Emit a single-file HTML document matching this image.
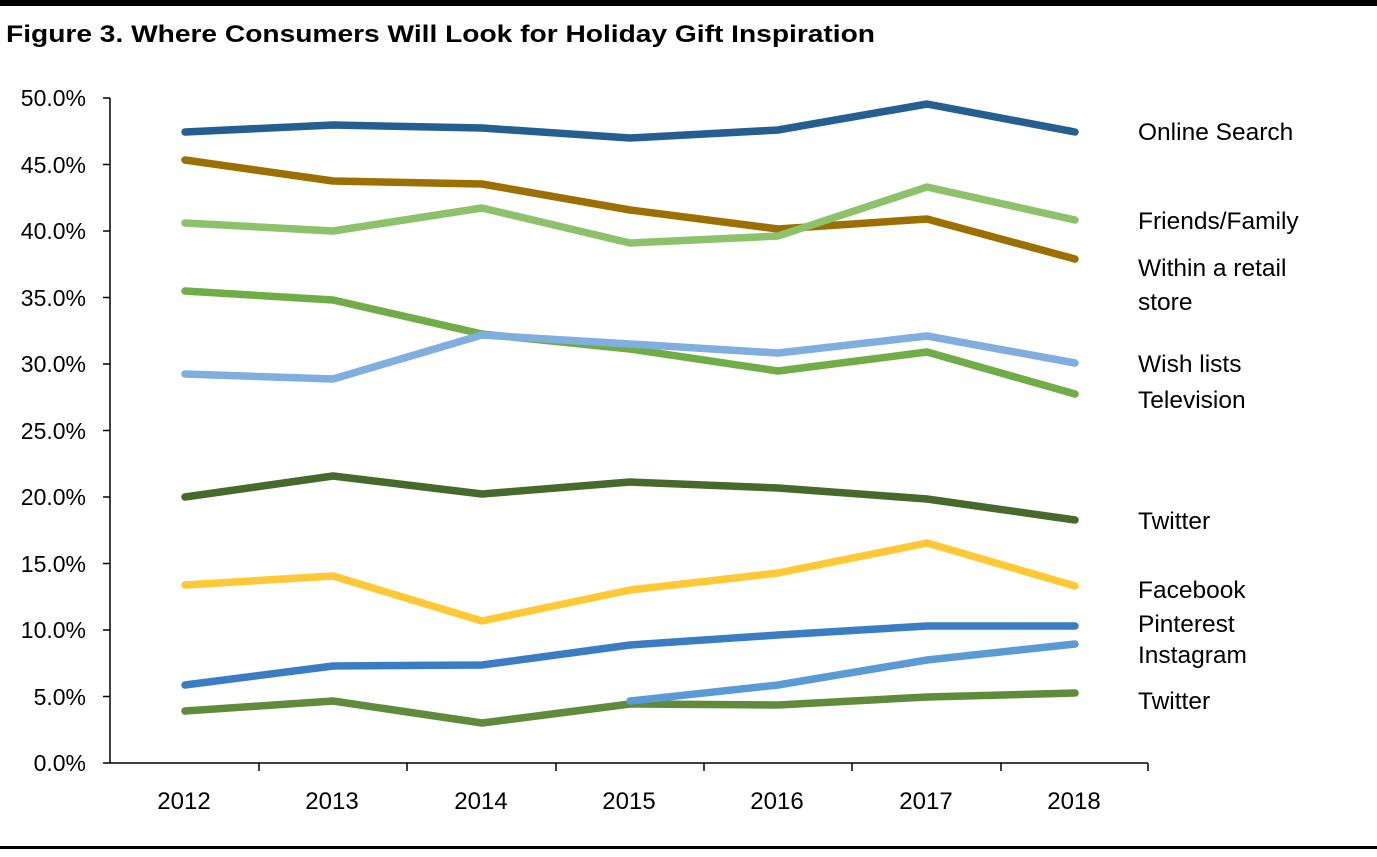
<!DOCTYPE html>
<html><head><meta charset="utf-8"><style>
body{margin:0;background:#fff;width:1377px;height:852px;overflow:hidden;font-family:"Liberation Sans",Calibri,sans-serif}
</style></head><body>
<svg width="1377" height="852" xmlns="http://www.w3.org/2000/svg" font-family="Liberation Sans, sans-serif">
<rect x="0" y="0" width="1377" height="6" fill="#000"/>
<rect x="0" y="846" width="1377" height="3" fill="#000"/>
<text x="6" y="42" font-size="24" font-weight="bold" fill="#000" textLength="869" lengthAdjust="spacingAndGlyphs">Figure 3. Where Consumers Will Look for Holiday Gift Inspiration</text>
<g font-size="23" fill="#000" text-anchor="end">
<text x="86" y="106">50.0%</text><text x="86" y="173">45.0%</text><text x="86" y="239">40.0%</text><text x="86" y="306">35.0%</text><text x="86" y="372">30.0%</text><text x="86" y="439">25.0%</text><text x="86" y="505">20.0%</text><text x="86" y="572">15.0%</text><text x="86" y="638">10.0%</text><text x="86" y="705">5.0%</text><text x="86" y="771">0.0%</text>
</g>
<g stroke="#000" stroke-width="1.5">
<line x1="110" y1="98" x2="110" y2="763"/>
<line x1="103" y1="763" x2="1148" y2="763"/>
<line x1="103" y1="98" x2="110" y2="98"/><line x1="103" y1="164.5" x2="110" y2="164.5"/><line x1="103" y1="231" x2="110" y2="231"/><line x1="103" y1="297.5" x2="110" y2="297.5"/><line x1="103" y1="364" x2="110" y2="364"/><line x1="103" y1="430.5" x2="110" y2="430.5"/><line x1="103" y1="497" x2="110" y2="497"/><line x1="103" y1="563.5" x2="110" y2="563.5"/><line x1="103" y1="630" x2="110" y2="630"/><line x1="103" y1="696.5" x2="110" y2="696.5"/>
<line x1="259" y1="763" x2="259" y2="771"/><line x1="407" y1="763" x2="407" y2="771"/><line x1="556" y1="763" x2="556" y2="771"/><line x1="704" y1="763" x2="704" y2="771"/><line x1="852" y1="763" x2="852" y2="771"/><line x1="1001" y1="763" x2="1001" y2="771"/><line x1="1148" y1="763" x2="1148" y2="771"/>
</g>
<g font-size="24" fill="#000" text-anchor="middle">
<text x="184" y="809">2012</text><text x="332" y="809">2013</text><text x="481" y="809">2014</text><text x="629" y="809">2015</text><text x="777" y="809">2016</text><text x="926" y="809">2017</text><text x="1074" y="809">2018</text>
</g>
<g fill="none" stroke-width="7.5" stroke-linejoin="round" stroke-linecap="round">
<polyline stroke="#5F8B3A" points="185,711 333,701 482,723 630,704 778,705 927,697 1075,693"/>
<polyline stroke="#5B9BD5" points="630,701 778,685 927,660 1075,644"/>
<polyline stroke="#3A7DC2" points="185,685 333,666 482,665 630,645 778,635 927,626 1075,626"/>
<polyline stroke="#FFC935" points="185,585 333,576 482,621 630,590 778,573 927,543 1075,586"/>
<polyline stroke="#476A2C" points="185,497 333,476 482,494 630,482 778,488 927,499 1075,520"/>
<polyline stroke="#70AD47" points="185,291 333,300 482,334 630,349 778,371 927,352 1075,394"/>
<polyline stroke="#7FAEDF" points="185,374 333,379 482,335 630,344 778,353 927,336 1075,363"/>
<polyline stroke="#9C7000" points="185,160 333,181 482,184 630,210 778,229 927,219 1075,259"/>
<polyline stroke="#8DC26A" points="185,223 333,231 482,208 630,243 778,236 927,187 1075,220"/>
<polyline stroke="#255E91" points="185,132 333,125 482,128 630,138 778,130 927,104 1075,132"/>
</g>
<g font-size="24.5" fill="#000">
<text x="1138" y="140">Online Search</text>
<text x="1138" y="229">Friends/Family</text>
<text x="1138" y="276">Within a retail</text>
<text x="1138" y="310">store</text>
<text x="1138" y="372">Wish lists</text>
<text x="1138" y="408">Television</text>
<text x="1138" y="529">Twitter</text>
<text x="1138" y="598">Facebook</text>
<text x="1138" y="632">Pinterest</text>
<text x="1138" y="663">Instagram</text>
<text x="1138" y="709">Twitter</text>
</g>
</svg>
</body></html>
